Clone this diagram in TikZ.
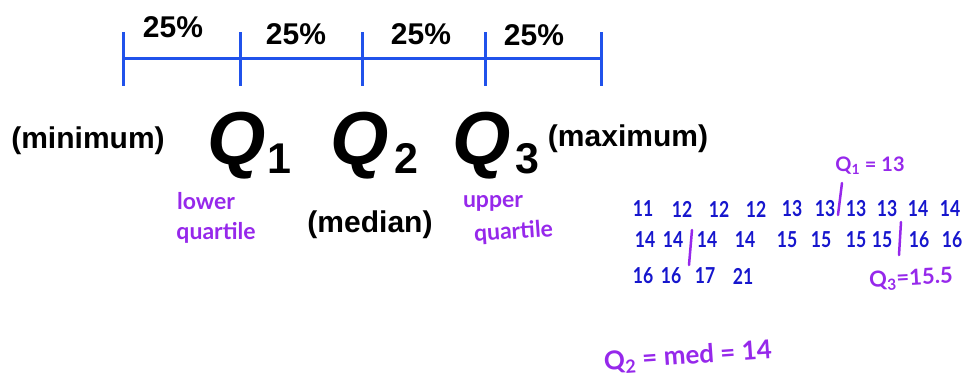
\documentclass[tikz,border=0pt]{standalone}
\usepackage{fontspec}
\setmainfont{Liberation Sans}
\newfontfamily\hand{Lato}
\newfontfamily\handn{Lato}[FakeStretch=0.8]
\definecolor{lblue}{RGB}{32,82,235}
\definecolor{nblue}{RGB}{22,22,205}
\definecolor{purp}{RGB}{150,40,235}
\begin{document}
\begin{tikzpicture}[x=1pt,y=-1pt,
  lbl/.style={font=\fontsize{30}{36}\selectfont\bfseries, inner sep=0pt, anchor=base},
  bigq/.style={font=\fontsize{75}{80}\selectfont\bfseries\itshape, inner sep=0pt, anchor=base west},
  subq/.style={font=\fontsize{43}{50}\selectfont\bfseries, inner sep=0pt, anchor=base west},
  hw/.style={text=purp, inner sep=0pt},
  num/.style={font=\handn\bfseries\fontsize{22}{24}\selectfont, text=nblue, inner sep=0pt},
  axis/.style={draw=lblue, line width=3pt},
  bar/.style={draw=purp, line width=2.5pt, line cap=round}]
\useasboundingbox (0,0) rectangle (970,381);
% number line
\foreach \x [count=\i from 0] in {123,240,362,485,601} {
  \coordinate (t\i) at (\x,58);
  \coordinate (tt\i) at (\x,32);
  \coordinate (tb\i) at (\x,86);
  \draw[axis] (tt\i) -- (tb\i);
}
\draw[axis] (t0) -- (t4);
\node[lbl] (p1) at (173,37) {25\%};
\node[lbl] (p2) at (296,44) {25\%};
\node[lbl] (p3) at (421,44) {25\%};
\node[lbl] (p4) at (534,45) {25\%};
% labels
\node[lbl] (min) at (88,148) {(minimum)};
\node[lbl] (max) at (628,146) {(maximum)};
\node[lbl] (med) at (370,232) {(median)};
\node[bigq] (qa) at (207,164) {Q};
\node[subq] (qa1) at (267,173) {1};
\node[bigq] (qb) at (330,164) {Q};
\node[subq] (qb1) at (394,173) {2};
\node[bigq] (qc) at (452,164) {Q};
\node[subq] (qc1) at (515,173) {3};
% handwritten purple
\node[hw, font=\hand\bfseries\fontsize{23}{26}\selectfont, anchor=base] (low) at (206,209) {lower};
\node[hw, font=\hand\bfseries\fontsize{23}{26}\selectfont, anchor=base] (lq) at (216,239) {quartile};
\node[hw, font=\hand\bfseries\fontsize{23}{26}\selectfont, anchor=base] (up) at (493,207) {upper};
\node[hw, font=\hand\bfseries\fontsize{23}{26}\selectfont, anchor=base, rotate=4] (uq) at (514,239) {quartile};
\node[hw, font=\hand\bfseries\fontsize{20}{24}\selectfont] (q1v) at (870,166) {Q\textsubscript{1} = 13};
\node[hw, font=\hand\bfseries\fontsize{22}{26}\selectfont, rotate=3] (q3v) at (911,279) {Q\textsubscript{3}=15.5};
\node[hw, font=\hand\bfseries\fontsize{26}{30}\selectfont, rotate=4] (q2v) at (688,357) {Q\textsubscript{2} = med = 14};
% data
\foreach \x/\t [count=\i] in {643/11,682/12,719/12,756/12,792/13,825/13,856/13,887/13,918/14,950/14}
  \node[num] (ra\i) at (\x,209) {\t};
\foreach \x/\t [count=\i] in {645/14,673/14,707/14,745/14,787/15,821/15,856/15,882/15,919/16,952/16}
  \node[num] (rb\i) at (\x,240) {\t};
\foreach \x/\t [count=\i] in {643/16,671/16,705/17,743/21}
  \node[num] (rc\i) at (\x,276) {\t};
% dividing strokes
\coordinate (ba1) at (842,183); \coordinate (ba2) at (838,215);
\coordinate (bb1) at (692,230); \coordinate (bb2) at (689,265);
\coordinate (bc1) at (901,222); \coordinate (bc2) at (899,255);
\draw[bar] (ba1) -- (ba2);
\draw[bar] (bb1) -- (bb2);
\draw[bar] (bc1) -- (bc2);
\end{tikzpicture}
\end{document}
